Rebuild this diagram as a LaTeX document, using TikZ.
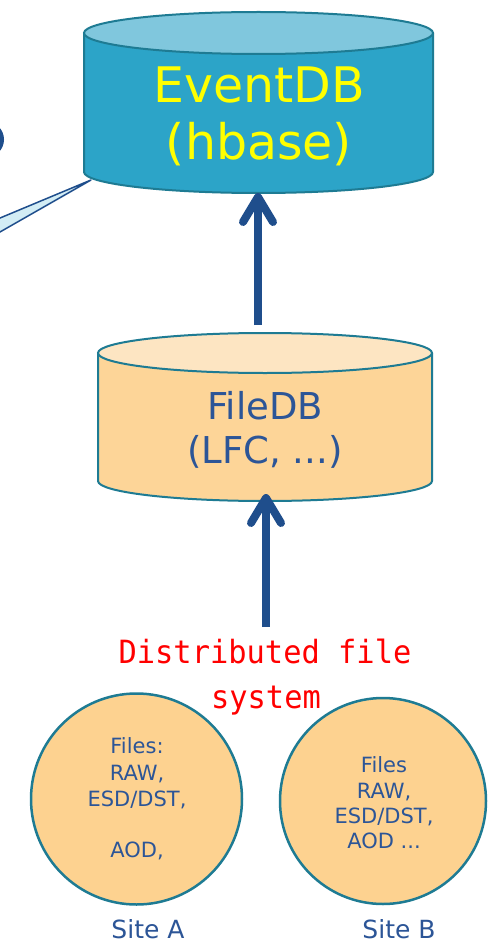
\documentclass[tikz,border=0pt]{standalone}
\usepackage{fontspec}
\setmainfont{DejaVu Sans}
\newfontfamily\redmono[FakeStretch=0.95]{DejaVu Sans Mono}
\usetikzlibrary{calc}
\definecolor{tealedge}{HTML}{1E7B93}
\definecolor{evtop}{HTML}{80C7DD}
\definecolor{evbody}{HTML}{2CA4C8}
\definecolor{fdtop}{HTML}{FDE5C2}
\definecolor{fdbody}{HTML}{FDD598}
\definecolor{sitefill}{HTML}{FDD290}
\definecolor{txtblue}{HTML}{2C5597}
\definecolor{arrblue}{HTML}{1F4E8C}
\definecolor{calloutfill}{HTML}{D3EDF5}
\definecolor{evtext}{HTML}{FFFF00}
\definecolor{redtxt}{HTML}{FF0000}
\tikzset{
  edge/.style={draw=tealedge, line width=2pt},
  shaft/.style={draw=arrblue, line width=8pt, line cap=butt},
  head/.style={draw=arrblue, line width=8pt, line cap=round, line join=round},
  evlabel/.style={anchor=base, inner sep=0pt, text=evtext, font=\fontsize{49}{57}\selectfont},
  fdlabel/.style={anchor=base, inner sep=0pt, text=txtblue, font=\fontsize{37}{44}\selectfont},
  redlabel/.style={anchor=base, inner sep=0pt, text=redtxt, font=\redmono\fontsize{32}{40}\selectfont},
  sitetext/.style={anchor=base, inner sep=0pt, text=txtblue, font=\fontsize{21}{26}\selectfont},
  sitename/.style={anchor=base, inner sep=0pt, text=txtblue, font=\fontsize{25}{30}\selectfont},
  sitecircle/.style={circle, draw=tealedge, line width=2.5pt, fill=sitefill, inner sep=0pt}
}
\begin{document}
\begin{tikzpicture}[x=1pt, y=-1pt]
\useasboundingbox (0,0) rectangle (492,944);
\clip (0,0) rectangle (492,944);
\fill[white] (0,0) rectangle (492,944);

% partial circle at left edge and callout tail
\draw[draw=arrblue, line width=4pt] (-14,139.5) circle[radius=16];
\coordinate (calloutTip) at (91,180);
\draw[draw=arrblue, fill=calloutfill, line width=1.5pt, line join=round]
  (calloutTip) -- (-10,222.2) -- (-10,237.7) -- cycle;

% EventDB cylinder
\path[fill=evbody] (84,33) -- (84,172) arc[start angle=180, end angle=360, x radius=174.5, y radius=-21]
  -- (433,33) arc[start angle=0, end angle=-180, x radius=174.5, y radius=-21] -- cycle;
\draw[edge] (84,33) -- (84,172) arc[start angle=180, end angle=360, x radius=174.5, y radius=-21] -- (433,33);
\draw[edge, fill=evtop] (258.5,33) ellipse[x radius=174.5, y radius=21];
\node[evlabel] (evdb1) at (259,103) {EventDB};
\node[evlabel] (evdb2) at (259,160) {(hbase)};

% FileDB cylinder
\path[fill=fdbody] (98,353) -- (98,481) arc[start angle=180, end angle=360, x radius=167, y radius=-20]
  -- (432,353) arc[start angle=0, end angle=-180, x radius=167, y radius=-20] -- cycle;
\draw[edge] (98,353) -- (98,481) arc[start angle=180, end angle=360, x radius=167, y radius=-20] -- (432,353);
\draw[edge, fill=fdtop] (265,353) ellipse[x radius=167, y radius=20];
\node[fdlabel] (fdb1) at (265,419) {FileDB};
\node[fdlabel] (fdb2) at (265,463) {(LFC, ...)};

% arrows
\coordinate (evBottom) at (258,197);
\coordinate (fdTopStart) at (258,325);
\draw[shaft] (fdTopStart) -- ($(evBottom)+(0,4)$);
\draw[head] ($(evBottom)+(-15,25)$) -- (evBottom) -- ($(evBottom)+(15,25)$);

\coordinate (fdBottom) at (266,498);
\coordinate (dfsTop) at (266,627);
\draw[shaft] (dfsTop) -- ($(fdBottom)+(0,4)$);
\draw[head] ($(fdBottom)+(-15,25)$) -- (fdBottom) -- ($(fdBottom)+(15,25)$);

% red label
\node[redlabel] (dfs1) at (265,663) {Distributed file};
\node[redlabel] (dfs2) at (266,708) {system};

% sites
\node[sitecircle, minimum size=211pt] (siteA) at (136.5,799) {};
\node[sitecircle, minimum size=206pt] (siteB) at (383,801) {};

\node[sitetext] (a1) at (137,753) {Files:};
\node[sitetext] (a2) at (137,780) {RAW,};
\node[sitetext] (a3) at (137,806) {ESD/DST,};
\node[sitetext] (a4) at (137,857) {AOD,};

\node[sitetext] (b1) at (384,772) {Files};
\node[sitetext] (b2) at (384,798) {RAW,};
\node[sitetext] (b3) at (384,823) {ESD/DST,};
\node[sitetext] (b4) at (384,848) {AOD ...};

\node[sitename] (siteAlbl) at (148,938) {Site A};
\node[sitename] (siteBlbl) at (399,938) {Site B};
\end{tikzpicture}
\end{document}
